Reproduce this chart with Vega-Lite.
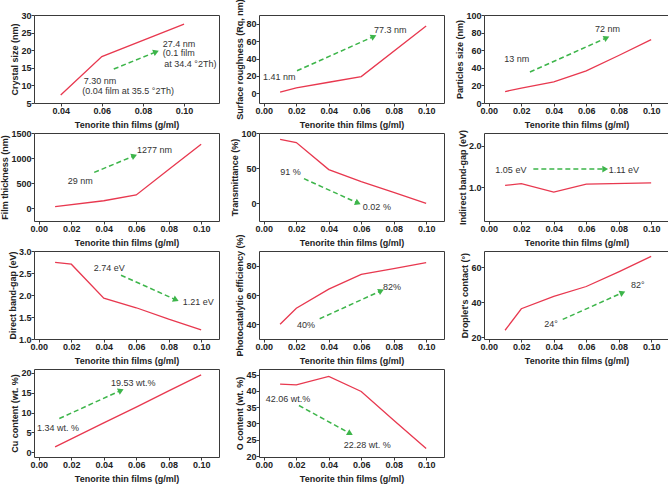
{
"$schema": "https://vega.github.io/schema/vega-lite/v6.json",
"background": "white",
"padding": {"left": 0, "top": -2, "right": 0, "bottom": 0},
"columns": 3,
"spacing": {"row": 30, "column": 40},
"bounds": "flush",
"datasets": {
"p1_line": [{"x":0.04,"y":7.3},{"x":0.06,"y":18.2},{"x":0.10,"y":27.4}],
"p1_arrow": [{"x1":0.0658,"y1":14.64,"x2":0.0864,"y2":19.53}],
"p1_text": [{"x":0.0896,"y":21.9,"label":"27.4 nm"},{"x":0.0896,"y":19.25,"label":"(0.1 film"},{"x":0.0904,"y":16.1,"label":"at 34.4 °2Th)"},{"x":0.0512,"y":11.19,"label":"7.30 nm"},{"x":0.0505,"y":8.42,"label":"(0.04 film at 35.5 °2Th)"}],
"p2_line": [{"x":0.01,"y":1.41},{"x":0.02,"y":6.3},{"x":0.04,"y":12.8},{"x":0.06,"y":19.3},{"x":0.10,"y":77.3}],
"p2_arrow": [{"x1":0.0204,"y1":26.0,"x2":0.0677,"y2":65.3}],
"p2_text": [{"x":0.0679,"y":73.2,"label":"77.3 nm"},{"x":-0.0005,"y":18.9,"label":"1.41 nm"}],
"p3_line": [{"x":0.01,"y":13},{"x":0.02,"y":17},{"x":0.04,"y":24},{"x":0.06,"y":36.5},{"x":0.08,"y":54},{"x":0.10,"y":72}],
"p3_arrow": [{"x1":0.0253,"y1":35.2,"x2":0.0726,"y2":74.1}],
"p3_text": [{"x":0.0654,"y":84.1,"label":"72 nm"},{"x":0.0095,"y":50,"label":"13 nm"}],
"p4_line": [{"x":0.01,"y":29},{"x":0.04,"y":145},{"x":0.06,"y":261},{"x":0.08,"y":769},{"x":0.10,"y":1277}],
"p4_arrow": [{"x1":0.0341,"y1":712,"x2":0.0588,"y2":1044}],
"p4_text": [{"x":0.0604,"y":1154,"label":"1277 nm"},{"x":0.0178,"y":536,"label":"29 nm"}],
"p5_line": [{"x":0.01,"y":91},{"x":0.02,"y":86.5},{"x":0.04,"y":48},{"x":0.06,"y":31},{"x":0.08,"y":15.5},{"x":0.10,"y":0.02}],
"p5_arrow": [{"x1":0.0247,"y1":35.1,"x2":0.058,"y2":0.4}],
"p5_text": [{"x":0.0101,"y":44,"label":"91 %"},{"x":0.061,"y":-4.6,"label":"0.02 %"}],
"p6_line": [{"x":0.01,"y":1.05},{"x":0.02,"y":1.09},{"x":0.04,"y":0.89},{"x":0.06,"y":1.08},{"x":0.10,"y":1.11}],
"p6_arrow": [{"x1":0.0274,"y1":1.44,"x2":0.0717,"y2":1.44}],
"p6_text": [{"x":0.004,"y":1.42,"label":"1.05 eV"},{"x":0.0738,"y":1.42,"label":"1.11 eV"}],
"p7_line": [{"x":0.01,"y":2.74},{"x":0.02,"y":2.70},{"x":0.04,"y":1.93},{"x":0.06,"y":1.71},{"x":0.08,"y":1.45},{"x":0.10,"y":1.21}],
"p7_arrow": [{"x1":0.0506,"y1":2.45,"x2":0.0845,"y2":1.89}],
"p7_text": [{"x":0.0338,"y":2.62,"label":"2.74 eV"},{"x":0.0886,"y":1.84,"label":"1.21 eV"}],
"p8_line": [{"x":0.01,"y":40},{"x":0.02,"y":51},{"x":0.04,"y":64},{"x":0.06,"y":74},{"x":0.08,"y":78},{"x":0.10,"y":82}],
"p8_arrow": [{"x1":0.0344,"y1":43.8,"x2":0.0723,"y2":62.9}],
"p8_text": [{"x":0.0734,"y":65.5,"label":"82%"},{"x":0.0204,"y":39.3,"label":"40%"}],
"p9_line": [{"x":0.01,"y":24},{"x":0.02,"y":36.3},{"x":0.04,"y":43.4},{"x":0.06,"y":49},{"x":0.08,"y":57.4},{"x":0.10,"y":66.2}],
"p9_arrow": [{"x1":0.0455,"y1":30.2,"x2":0.0824,"y2":45.5}],
"p9_text": [{"x":0.0876,"y":49.8,"label":"82°"},{"x":0.0341,"y":27.4,"label":"24°"}],
"p10_line": [{"x":0.01,"y":1.34},{"x":0.04,"y":7.4},{"x":0.06,"y":11.4},{"x":0.08,"y":15.5},{"x":0.10,"y":19.53}],
"p10_arrow": [{"x1":0.0126,"y1":8.5,"x2":0.0506,"y2":15.6}],
"p10_text": [{"x":0.0444,"y":17.5,"label":"19.53 wt.%"},{"x":-0.0011,"y":6.2,"label":"1.34 wt. %"}],
"p11_line": [{"x":0.01,"y":42.06},{"x":0.02,"y":41.8},{"x":0.04,"y":44.4},{"x":0.06,"y":39.8},{"x":0.08,"y":31.0},{"x":0.10,"y":22.28}],
"p11_arrow": [{"x1":0.0216,"y1":35.5,"x2":0.0532,"y2":26.9}],
"p11_text": [{"x":0.0011,"y":37.5,"label":"42.06 wt.%"},{"x":0.0492,"y":23.5,"label":"22.28 wt. %"}]
},
"concat": [
{"width":185,"height":88,"layer":[
 {"data":{"name":"p1_line"},"mark":{"type":"line","color":"#e8384f","strokeWidth":1.3},"encoding":{"x":{"field":"x","type":"quantitative","title":"Tenorite thin films (g/ml)","scale":{"domain":[0.027,0.117],"nice":false,"zero":false},"axis":{"values":[0.04,0.06,0.08,0.1],"format":".2f","tickCount":20}},"y":{"field":"y","type":"quantitative","title":"Crystal size (nm)","scale":{"domain":[5,30],"nice":false,"zero":false},"axis":{"values":[5,10,15,20,25,30],"tickCount":20}}}},
 {"data":{"name":"p1_arrow"},"mark":{"type":"rule","color":"#3db54a","strokeWidth":1.5,"strokeDash":[5,3]},"encoding":{"x":{"field":"x1","type":"quantitative","title":"Tenorite thin films (g/ml)"},"y":{"field":"y1","type":"quantitative","title":"Crystal size (nm)"},"x2":{"field":"x2"},"y2":{"field":"y2"}}},
 {"data":{"name":"p1_arrow"},"mark":{"type":"point","shape":"triangle-right","filled":true,"size":45,"angle":337.4,"color":"#3db54a","opacity":1},"encoding":{"x":{"field":"x2","type":"quantitative","title":"Tenorite thin films (g/ml)"},"y":{"field":"y2","type":"quantitative","title":"Crystal size (nm)"}}},
 {"data":{"name":"p1_text"},"mark":{"type":"text","align":"left","baseline":"middle","fontSize":9,"color":"#333"},"encoding":{"x":{"field":"x","type":"quantitative","title":"Tenorite thin films (g/ml)"},"y":{"field":"y","type":"quantitative","title":"Crystal size (nm)"},"text":{"field":"label"}}}
]},
{"width":185,"height":88,"layer":[
 {"data":{"name":"p2_line"},"mark":{"type":"line","color":"#e8384f","strokeWidth":1.3},"encoding":{"x":{"field":"x","type":"quantitative","title":"Tenorite thin films (g/ml)","scale":{"domain":[-0.003,0.111],"nice":false,"zero":false},"axis":{"values":[0,0.02,0.04,0.06,0.08,0.1],"format":".2f","tickCount":20}},"y":{"field":"y","type":"quantitative","title":"Surface roughness (Rq, nm)","scale":{"domain":[-11,90],"nice":false,"zero":false},"axis":{"values":[0,20,40,60,80],"tickCount":20}}}},
 {"data":{"name":"p2_arrow"},"mark":{"type":"rule","color":"#3db54a","strokeWidth":1.5,"strokeDash":[5,3]},"encoding":{"x":{"field":"x1","type":"quantitative","title":"Tenorite thin films (g/ml)"},"y":{"field":"y1","type":"quantitative","title":"Surface roughness (Rq, nm)"},"x2":{"field":"x2"},"y2":{"field":"y2"}}},
 {"data":{"name":"p2_arrow"},"mark":{"type":"point","shape":"triangle-right","filled":true,"size":45,"angle":335.5,"color":"#3db54a","opacity":1},"encoding":{"x":{"field":"x2","type":"quantitative","title":"Tenorite thin films (g/ml)"},"y":{"field":"y2","type":"quantitative","title":"Surface roughness (Rq, nm)"}}},
 {"data":{"name":"p2_text"},"mark":{"type":"text","align":"left","baseline":"middle","fontSize":9,"color":"#333"},"encoding":{"x":{"field":"x","type":"quantitative","title":"Tenorite thin films (g/ml)"},"y":{"field":"y","type":"quantitative","title":"Surface roughness (Rq, nm)"},"text":{"field":"label"}}}
]},
{"width":185,"height":88,"layer":[
 {"data":{"name":"p3_line"},"mark":{"type":"line","color":"#e8384f","strokeWidth":1.3},"encoding":{"x":{"field":"x","type":"quantitative","title":"Tenorite thin films (g/ml)","scale":{"domain":[-0.003,0.111],"nice":false,"zero":false},"axis":{"values":[0,0.02,0.04,0.06,0.08,0.1],"format":".2f","tickCount":20}},"y":{"field":"y","type":"quantitative","title":"Particles size (nm)","scale":{"domain":[0,100],"nice":false,"zero":false},"axis":{"values":[0,20,40,60,80,100],"tickCount":20}}}},
 {"data":{"name":"p3_arrow"},"mark":{"type":"rule","color":"#3db54a","strokeWidth":1.5,"strokeDash":[5,3]},"encoding":{"x":{"field":"x1","type":"quantitative","title":"Tenorite thin films (g/ml)"},"y":{"field":"y1","type":"quantitative","title":"Particles size (nm)"},"x2":{"field":"x2"},"y2":{"field":"y2"}}},
 {"data":{"name":"p3_arrow"},"mark":{"type":"point","shape":"triangle-right","filled":true,"size":45,"angle":335.5,"color":"#3db54a","opacity":1},"encoding":{"x":{"field":"x2","type":"quantitative","title":"Tenorite thin films (g/ml)"},"y":{"field":"y2","type":"quantitative","title":"Particles size (nm)"}}},
 {"data":{"name":"p3_text"},"mark":{"type":"text","align":"left","baseline":"middle","fontSize":9,"color":"#333"},"encoding":{"x":{"field":"x","type":"quantitative","title":"Tenorite thin films (g/ml)"},"y":{"field":"y","type":"quantitative","title":"Particles size (nm)"},"text":{"field":"label"}}}
]},
{"width":185,"height":88,"layer":[
 {"data":{"name":"p4_line"},"mark":{"type":"line","color":"#e8384f","strokeWidth":1.3},"encoding":{"x":{"field":"x","type":"quantitative","title":"Tenorite thin films (g/ml)","scale":{"domain":[-0.003,0.111],"nice":false,"zero":false},"axis":{"values":[0,0.02,0.04,0.06,0.08,0.1],"format":".2f","tickCount":20}},"y":{"field":"y","type":"quantitative","title":"Film thickness (nm)","scale":{"domain":[-260,1500],"nice":false,"zero":false},"axis":{"values":[0,500,1000,1500],"format":"d","tickCount":20}}}},
 {"data":{"name":"p4_arrow"},"mark":{"type":"rule","color":"#3db54a","strokeWidth":1.5,"strokeDash":[5,3]},"encoding":{"x":{"field":"x1","type":"quantitative","title":"Tenorite thin films (g/ml)"},"y":{"field":"y1","type":"quantitative","title":"Film thickness (nm)"},"x2":{"field":"x2"},"y2":{"field":"y2"}}},
 {"data":{"name":"p4_arrow"},"mark":{"type":"point","shape":"triangle-right","filled":true,"size":45,"angle":337,"color":"#3db54a","opacity":1},"encoding":{"x":{"field":"x2","type":"quantitative","title":"Tenorite thin films (g/ml)"},"y":{"field":"y2","type":"quantitative","title":"Film thickness (nm)"}}},
 {"data":{"name":"p4_text"},"mark":{"type":"text","align":"left","baseline":"middle","fontSize":9,"color":"#333"},"encoding":{"x":{"field":"x","type":"quantitative","title":"Tenorite thin films (g/ml)"},"y":{"field":"y","type":"quantitative","title":"Film thickness (nm)"},"text":{"field":"label"}}}
]},
{"width":185,"height":88,"layer":[
 {"data":{"name":"p5_line"},"mark":{"type":"line","color":"#e8384f","strokeWidth":1.3},"encoding":{"x":{"field":"x","type":"quantitative","title":"Tenorite thin films (g/ml)","scale":{"domain":[-0.003,0.111],"nice":false,"zero":false},"axis":{"values":[0,0.02,0.04,0.06,0.08,0.1],"format":".2f","tickCount":20}},"y":{"field":"y","type":"quantitative","title":"Transmittance (%)","scale":{"domain":[-25,100],"nice":false,"zero":false},"axis":{"values":[0,50,100],"tickCount":20}}}},
 {"data":{"name":"p5_arrow"},"mark":{"type":"rule","color":"#3db54a","strokeWidth":1.5,"strokeDash":[5,3]},"encoding":{"x":{"field":"x1","type":"quantitative","title":"Tenorite thin films (g/ml)"},"y":{"field":"y1","type":"quantitative","title":"Transmittance (%)"},"x2":{"field":"x2"},"y2":{"field":"y2"}}},
 {"data":{"name":"p5_arrow"},"mark":{"type":"point","shape":"triangle-right","filled":true,"size":45,"angle":24.8,"color":"#3db54a","opacity":1},"encoding":{"x":{"field":"x2","type":"quantitative","title":"Tenorite thin films (g/ml)"},"y":{"field":"y2","type":"quantitative","title":"Transmittance (%)"}}},
 {"data":{"name":"p5_text"},"mark":{"type":"text","align":"left","baseline":"middle","fontSize":9,"color":"#333"},"encoding":{"x":{"field":"x","type":"quantitative","title":"Tenorite thin films (g/ml)"},"y":{"field":"y","type":"quantitative","title":"Transmittance (%)"},"text":{"field":"label"}}}
]},
{"width":185,"height":88,"layer":[
 {"data":{"name":"p6_line"},"mark":{"type":"line","color":"#e8384f","strokeWidth":1.3},"encoding":{"x":{"field":"x","type":"quantitative","title":"Tenorite thin films (g/ml)","scale":{"domain":[-0.003,0.111],"nice":false,"zero":false},"axis":{"values":[0,0.02,0.04,0.06,0.08,0.1],"format":".2f","tickCount":20}},"y":{"field":"y","type":"quantitative","title":"Indirect band-gap (eV)","scale":{"domain":[0.2,2.3],"nice":false,"zero":false},"axis":{"values":[1,2],"tickCount":20}}}},
 {"data":{"name":"p6_arrow"},"mark":{"type":"rule","color":"#3db54a","strokeWidth":1.5,"strokeDash":[5,3]},"encoding":{"x":{"field":"x1","type":"quantitative","title":"Tenorite thin films (g/ml)"},"y":{"field":"y1","type":"quantitative","title":"Indirect band-gap (eV)"},"x2":{"field":"x2"},"y2":{"field":"y2"}}},
 {"data":{"name":"p6_arrow"},"mark":{"type":"point","shape":"triangle-right","filled":true,"size":45,"angle":0,"color":"#3db54a","opacity":1},"encoding":{"x":{"field":"x2","type":"quantitative","title":"Tenorite thin films (g/ml)"},"y":{"field":"y2","type":"quantitative","title":"Indirect band-gap (eV)"}}},
 {"data":{"name":"p6_text"},"mark":{"type":"text","align":"left","baseline":"middle","fontSize":9,"color":"#333"},"encoding":{"x":{"field":"x","type":"quantitative","title":"Tenorite thin films (g/ml)"},"y":{"field":"y","type":"quantitative","title":"Indirect band-gap (eV)"},"text":{"field":"label"}}}
]},
{"width":185,"height":88,"layer":[
 {"data":{"name":"p7_line"},"mark":{"type":"line","color":"#e8384f","strokeWidth":1.3},"encoding":{"x":{"field":"x","type":"quantitative","title":"Tenorite thin films (g/ml)","scale":{"domain":[-0.003,0.111],"nice":false,"zero":false},"axis":{"values":[0,0.02,0.04,0.06,0.08,0.1],"format":".2f","tickCount":20}},"y":{"field":"y","type":"quantitative","title":"Direct band-gap (eV)","scale":{"domain":[1,3],"nice":false,"zero":false},"axis":{"values":[1,1.5,2,2.5,3],"format":".1f","tickCount":20}}}},
 {"data":{"name":"p7_arrow"},"mark":{"type":"rule","color":"#3db54a","strokeWidth":1.5,"strokeDash":[5,3]},"encoding":{"x":{"field":"x1","type":"quantitative","title":"Tenorite thin films (g/ml)"},"y":{"field":"y1","type":"quantitative","title":"Direct band-gap (eV)"},"x2":{"field":"x2"},"y2":{"field":"y2"}}},
 {"data":{"name":"p7_arrow"},"mark":{"type":"point","shape":"triangle-right","filled":true,"size":45,"angle":24.7,"color":"#3db54a","opacity":1},"encoding":{"x":{"field":"x2","type":"quantitative","title":"Tenorite thin films (g/ml)"},"y":{"field":"y2","type":"quantitative","title":"Direct band-gap (eV)"}}},
 {"data":{"name":"p7_text"},"mark":{"type":"text","align":"left","baseline":"middle","fontSize":9,"color":"#333"},"encoding":{"x":{"field":"x","type":"quantitative","title":"Tenorite thin films (g/ml)"},"y":{"field":"y","type":"quantitative","title":"Direct band-gap (eV)"},"text":{"field":"label"}}}
]},
{"width":185,"height":88,"layer":[
 {"data":{"name":"p8_line"},"mark":{"type":"line","color":"#e8384f","strokeWidth":1.3},"encoding":{"x":{"field":"x","type":"quantitative","title":"Tenorite thin films (g/ml)","scale":{"domain":[-0.003,0.111],"nice":false,"zero":false},"axis":{"values":[0,0.02,0.04,0.06,0.08,0.1],"format":".2f","tickCount":20}},"y":{"field":"y","type":"quantitative","title":"Photocatalytic efficiency (%)","scale":{"domain":[30,90],"nice":false,"zero":false},"axis":{"values":[40,60,80],"tickCount":20}}}},
 {"data":{"name":"p8_arrow"},"mark":{"type":"rule","color":"#3db54a","strokeWidth":1.5,"strokeDash":[5,3]},"encoding":{"x":{"field":"x1","type":"quantitative","title":"Tenorite thin films (g/ml)"},"y":{"field":"y1","type":"quantitative","title":"Photocatalytic efficiency (%)"},"x2":{"field":"x2"},"y2":{"field":"y2"}}},
 {"data":{"name":"p8_arrow"},"mark":{"type":"point","shape":"triangle-right","filled":true,"size":45,"angle":335.1,"color":"#3db54a","opacity":1},"encoding":{"x":{"field":"x2","type":"quantitative","title":"Tenorite thin films (g/ml)"},"y":{"field":"y2","type":"quantitative","title":"Photocatalytic efficiency (%)"}}},
 {"data":{"name":"p8_text"},"mark":{"type":"text","align":"left","baseline":"middle","fontSize":9,"color":"#333"},"encoding":{"x":{"field":"x","type":"quantitative","title":"Tenorite thin films (g/ml)"},"y":{"field":"y","type":"quantitative","title":"Photocatalytic efficiency (%)"},"text":{"field":"label"}}}
]},
{"width":185,"height":88,"layer":[
 {"data":{"name":"p9_line"},"mark":{"type":"line","color":"#e8384f","strokeWidth":1.3},"encoding":{"x":{"field":"x","type":"quantitative","title":"Tenorite thin films (g/ml)","scale":{"domain":[-0.003,0.111],"nice":false,"zero":false},"axis":{"values":[0,0.02,0.04,0.06,0.08,0.1],"format":".2f","tickCount":20}},"y":{"field":"y","type":"quantitative","title":"Droplet's contact (°)","scale":{"domain":[19,69.3],"nice":false,"zero":false},"axis":{"values":[20,40,60],"tickCount":20}}}},
 {"data":{"name":"p9_arrow"},"mark":{"type":"rule","color":"#3db54a","strokeWidth":1.5,"strokeDash":[5,3]},"encoding":{"x":{"field":"x1","type":"quantitative","title":"Tenorite thin films (g/ml)"},"y":{"field":"y1","type":"quantitative","title":"Droplet's contact (°)"},"x2":{"field":"x2"},"y2":{"field":"y2"}}},
 {"data":{"name":"p9_arrow"},"mark":{"type":"point","shape":"triangle-right","filled":true,"size":45,"angle":335.5,"color":"#3db54a","opacity":1},"encoding":{"x":{"field":"x2","type":"quantitative","title":"Tenorite thin films (g/ml)"},"y":{"field":"y2","type":"quantitative","title":"Droplet's contact (°)"}}},
 {"data":{"name":"p9_text"},"mark":{"type":"text","align":"left","baseline":"middle","fontSize":9,"color":"#333"},"encoding":{"x":{"field":"x","type":"quantitative","title":"Tenorite thin films (g/ml)"},"y":{"field":"y","type":"quantitative","title":"Droplet's contact (°)"},"text":{"field":"label"}}}
]},
{"width":185,"height":88,"layer":[
 {"data":{"name":"p10_line"},"mark":{"type":"line","color":"#e8384f","strokeWidth":1.3},"encoding":{"x":{"field":"x","type":"quantitative","title":"Tenorite thin films (g/ml)","scale":{"domain":[-0.003,0.111],"nice":false,"zero":false},"axis":{"values":[0,0.02,0.04,0.06,0.08,0.1],"format":".2f","tickCount":20}},"y":{"field":"y","type":"quantitative","title":"Cu content (wt. %)","scale":{"domain":[-1.2,21],"nice":false,"zero":false},"axis":{"values":[0,5,10,15,20],"tickCount":20}}}},
 {"data":{"name":"p10_arrow"},"mark":{"type":"rule","color":"#3db54a","strokeWidth":1.5,"strokeDash":[5,3]},"encoding":{"x":{"field":"x1","type":"quantitative","title":"Tenorite thin films (g/ml)"},"y":{"field":"y1","type":"quantitative","title":"Cu content (wt. %)"},"x2":{"field":"x2"},"y2":{"field":"y2"}}},
 {"data":{"name":"p10_arrow"},"mark":{"type":"point","shape":"triangle-right","filled":true,"size":45,"angle":334.8,"color":"#3db54a","opacity":1},"encoding":{"x":{"field":"x2","type":"quantitative","title":"Tenorite thin films (g/ml)"},"y":{"field":"y2","type":"quantitative","title":"Cu content (wt. %)"}}},
 {"data":{"name":"p10_text"},"mark":{"type":"text","align":"left","baseline":"middle","fontSize":9,"color":"#333"},"encoding":{"x":{"field":"x","type":"quantitative","title":"Tenorite thin films (g/ml)"},"y":{"field":"y","type":"quantitative","title":"Cu content (wt. %)"},"text":{"field":"label"}}}
]},
{"width":185,"height":88,"layer":[
 {"data":{"name":"p11_line"},"mark":{"type":"line","color":"#e8384f","strokeWidth":1.3},"encoding":{"x":{"field":"x","type":"quantitative","title":"Tenorite thin films (g/ml)","scale":{"domain":[-0.003,0.111],"nice":false,"zero":false},"axis":{"values":[0,0.02,0.04,0.06,0.08,0.1],"format":".2f","tickCount":20}},"y":{"field":"y","type":"quantitative","title":"O content (wt. %)","scale":{"domain":[19.7,46.7],"nice":false,"zero":false},"axis":{"values":[20,25,30,35,40,45],"tickCount":20}}}},
 {"data":{"name":"p11_arrow"},"mark":{"type":"rule","color":"#3db54a","strokeWidth":1.5,"strokeDash":[5,3]},"encoding":{"x":{"field":"x1","type":"quantitative","title":"Tenorite thin films (g/ml)"},"y":{"field":"y1","type":"quantitative","title":"O content (wt. %)"},"x2":{"field":"x2"},"y2":{"field":"y2"}}},
 {"data":{"name":"p11_arrow"},"mark":{"type":"point","shape":"triangle-right","filled":true,"size":45,"angle":29.2,"color":"#3db54a","opacity":1},"encoding":{"x":{"field":"x2","type":"quantitative","title":"Tenorite thin films (g/ml)"},"y":{"field":"y2","type":"quantitative","title":"O content (wt. %)"}}},
 {"data":{"name":"p11_text"},"mark":{"type":"text","align":"left","baseline":"middle","fontSize":9,"color":"#333"},"encoding":{"x":{"field":"x","type":"quantitative","title":"Tenorite thin films (g/ml)"},"y":{"field":"y","type":"quantitative","title":"O content (wt. %)"},"text":{"field":"label"}}}
]}
],
"config": {
 "font": "Liberation Sans",
 "view": {"stroke": "#3a3a3a", "strokeWidth": 1},
 "text": {"font": "Liberation Sans"},
 "axis": {"grid": false, "domain": false, "ticks": true, "tickSize": 3, "tickColor": "#3a3a3a", "tickWidth": 1, "labelFont": "Liberation Sans", "labelFontSize": 9, "labelFontWeight": "bold", "labelColor": "#222", "labelFlush": false, "labelOverlap": false, "titleFont": "Liberation Sans", "titleFontSize": 9, "titleFontWeight": "bold", "titleColor": "#222"},
 "axisX": {"titlePadding": 5, "labelPadding": 0},
 "axisY": {"titlePadding": 1, "labelPadding": 0}
}
}
